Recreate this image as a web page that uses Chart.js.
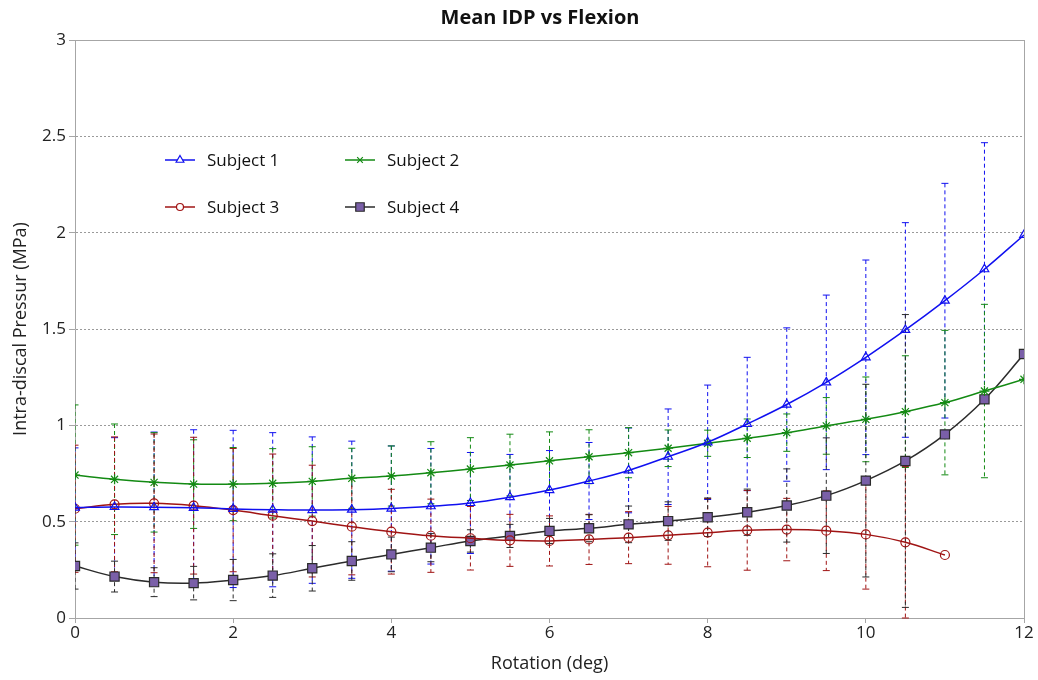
<!DOCTYPE html>
<html>
<head>
<meta charset="utf-8">
<title>Mean IDP vs Flexion</title>
<script src="https://cdn.jsdelivr.net/npm/chart.js@4.4.0/dist/chart.umd.min.js"></script>
<style>
  html, body { margin: 0; padding: 0; background: #fff; }
  #wrap { width: 1038px; height: 680px; }
</style>
</head>
<body>
<div id="wrap"><canvas id="idpChart" width="1038" height="680"></canvas></div>
<script>
// Góc xoay (deg)
const rotation = [0, 0.5, 1, 1.5, 2, 2.5, 3, 3.5, 4, 4.5, 5, 5.5, 6, 6.5, 7, 7.5, 8, 8.5, 9, 9.5, 10, 10.5, 11, 11.5, 12];

// Áp suất trung bình (MPa) và độ lệch chuẩn cho từng subject
const subject1 = [0.573, 0.576, 0.575, 0.572, 0.566, 0.562, 0.56, 0.562, 0.568, 0.58, 0.597, 0.627, 0.664, 0.711, 0.766, 0.837, 0.912, 1.007, 1.108, 1.223, 1.353, 1.495, 1.647, 1.81, 1.988];
const subject1Err = [0.31, 0.36, 0.39, 0.405, 0.408, 0.4, 0.38, 0.356, 0.325, 0.3, 0.262, 0.222, 0.205, 0.2, 0.22, 0.248, 0.297, 0.346, 0.398, 0.453, 0.505, 0.557, 0.609, 0.657, null];

const subject2 = [0.742, 0.72, 0.704, 0.695, 0.695, 0.699, 0.709, 0.725, 0.737, 0.754, 0.773, 0.794, 0.816, 0.837, 0.858, 0.881, 0.907, 0.933, 0.962, 0.997, 1.031, 1.071, 1.118, 1.178, 1.239];
const subject2Err = [0.364, 0.287, 0.258, 0.23, 0.19, 0.18, 0.18, 0.156, 0.156, 0.161, 0.163, 0.16, 0.15, 0.14, 0.13, 0.095, 0.068, 0.1, 0.097, 0.147, 0.22, 0.29, 0.375, 0.45, null];

const subject3 = [0.567, 0.59, 0.595, 0.583, 0.56, 0.531, 0.503, 0.474, 0.448, 0.427, 0.414, 0.403, 0.4, 0.408, 0.417, 0.429, 0.443, 0.455, 0.459, 0.453, 0.434, 0.393, 0.327, null, null];
const subject3Err = [0.33, 0.35, 0.36, 0.355, 0.32, 0.32, 0.29, 0.25, 0.22, 0.19, 0.165, 0.135, 0.13, 0.13, 0.135, 0.15, 0.177, 0.207, 0.162, 0.207, 0.284, 0.393, null, null, null];

const subject4 = [0.27, 0.215, 0.186, 0.181, 0.197, 0.22, 0.258, 0.296, 0.33, 0.365, 0.4, 0.426, 0.452, 0.466, 0.486, 0.503, 0.523, 0.549, 0.584, 0.635, 0.713, 0.815, 0.953, 1.135, 1.37];
const subject4Err = [0.12, 0.08, 0.075, 0.087, 0.107, 0.113, 0.118, 0.1, 0.09, 0.073, 0.058, 0.06, 0.065, 0.07, 0.095, 0.1, 0.1, 0.12, 0.19, 0.3, 0.5, 0.76, null, null, null];

const seriesNames = ['Subject 1', 'Subject 2', 'Subject 3', 'Subject 4'];
const xTicks = [0, 2, 4, 6, 8, 10, 12];
const yTicks = [0, 0.5, 1, 1.5, 2, 2.5, 3];
const chartTitle = 'Mean IDP vs Flexion';

const FONT = '"Open Sans", Lato, sans-serif';

// ghép x với y
function toPoints(values) {
    return rotation.map((r, i) => ({ x: r, y: values[i] }));
}

// Vẽ thanh sai số (nét đứt) phía sau đường
const errorBarPlugin = {
    id: 'errorBars',
    beforeDatasetsDraw(chart) {
        const { ctx, chartArea, scales: { x, y } } = chart;
        ctx.save();
        ctx.beginPath();
        ctx.rect(chartArea.left, chartArea.top - 1, chartArea.right - chartArea.left, chartArea.bottom - chartArea.top + 2);
        ctx.clip();
        chart.data.datasets.forEach(ds => {
            if (!ds.errors) return;
            ctx.strokeStyle = ds.borderColor;
            ctx.lineWidth = 1;
            ds.data.forEach((pt, j) => {
                const e = ds.errors[j];
                if (pt.y == null || e == null) return;
                const px = x.getPixelForValue(pt.x);
                const top = y.getPixelForValue(pt.y + e);
                const bot = y.getPixelForValue(Math.max(pt.y - e, 0));
                ctx.setLineDash([4, 3]);
                ctx.beginPath();
                ctx.moveTo(px, top);
                ctx.lineTo(px, bot);
                ctx.stroke();
                ctx.setLineDash([]);
                ctx.beginPath();
                ctx.moveTo(px - 3.5, top);
                ctx.lineTo(px + 3.5, top);
                ctx.moveTo(px - 3.5, bot);
                ctx.lineTo(px + 3.5, bot);
                ctx.stroke();
            });
        });
        ctx.restore();
    }
};

// Tiêu đề canh giữa, chú thích 2 cột bên trong vùng vẽ
const legendPlugin = {
    id: 'insideLegend',
    afterDraw(chart) {
        const { ctx } = chart;
        ctx.save();
        ctx.fillStyle = '#111';
        ctx.font = 'bold 20px ' + FONT;
        ctx.textAlign = 'center';
        ctx.textBaseline = 'middle';
        ctx.fillText(chartTitle, 540, 18);
        ctx.restore();

        const slots = [[165, 160], [345, 160], [165, 207], [345, 207]];
        chart.data.datasets.forEach((ds, i) => {
            const [lx, ly] = slots[i];
            ctx.save();
            ctx.strokeStyle = ds.borderColor;
            ctx.lineWidth = 1.5;
            ctx.beginPath();
            ctx.moveTo(lx, ly);
            ctx.lineTo(lx + 30, ly);
            ctx.stroke();
            ctx.fillStyle = ds.legendFill;
            ctx.strokeStyle = ds.pointBorderColor;
            ctx.lineWidth = 1.2;
            Chart.helpers.drawPoint(ctx, {
                pointStyle: ds.legendStyle || ds.pointStyle,
                radius: ds.legendRadius,
                borderWidth: 1.2,
                rotation: 0
            }, lx + 15, ly);
            ctx.fillStyle = '#111';
            ctx.font = '17px ' + FONT;
            ctx.textBaseline = 'middle';
            ctx.textAlign = 'left';
            ctx.fillText(ds.label, lx + 42, ly + 1);
            ctx.restore();
        });
    }
};

const ctx = document.getElementById('idpChart').getContext('2d');

new Chart(ctx, {
    type: 'line',
    data: {
        datasets: [
            {
                label: seriesNames[0],
                data: toPoints(subject1),
                errors: subject1Err,
                borderColor: '#1010f0',
                pointBorderColor: '#1010f0',
                pointBackgroundColor: 'rgba(255,255,255,0)',
                legendFill: '#ffffff',
                pointStyle: 'triangle',
                pointRadius: 5,
                legendRadius: 4.5
            },
            {
                label: seriesNames[1],
                data: toPoints(subject2),
                errors: subject2Err,
                borderColor: '#138a13',
                pointBorderColor: '#138a13',
                pointBackgroundColor: 'rgba(255,255,255,0)',
                legendFill: '#ffffff',
                pointStyle: 'star',
                legendStyle: 'crossRot',
                pointRadius: 5,
                legendRadius: 4
            },
            {
                label: seriesNames[2],
                data: toPoints(subject3),
                errors: subject3Err,
                borderColor: '#a01414',
                pointBorderColor: '#a01414',
                pointBackgroundColor: 'rgba(255,255,255,0)',
                legendFill: '#ffffff',
                pointStyle: 'circle',
                pointRadius: 4.5,
                legendRadius: 3.5
            },
            {
                label: seriesNames[3],
                data: toPoints(subject4),
                errors: subject4Err,
                borderColor: '#2b2b2b',
                pointBorderColor: '#2b2b2b',
                pointBackgroundColor: '#7a5fa8',
                legendFill: '#7a5fa8',
                pointStyle: 'rect',
                pointRadius: 6.5,
                legendRadius: 6
            }
        ]
    },
    options: {
        responsive: false,
        animation: false,
        spanGaps: false,
        layout: { padding: { left: 0, right: 14, top: 40, bottom: 0 } },
        elements: {
            line: { borderWidth: 1.5, tension: 0.4, fill: false },
            point: { borderWidth: 1.2, hoverRadius: 6 }
        },
        plugins: {
            legend: { display: false },
            tooltip: { enabled: false },
            title: { display: false }
        },
        scales: {
            x: {
                type: 'linear',
                min: 0,
                max: 12,
                afterFit: scale => { scale.height = 62; },
                afterBuildTicks: scale => { scale.ticks = xTicks.map(v => ({ value: v })); },
                ticks: {
                    color: '#222',
                    font: { family: FONT, size: 17 },
                    padding: 0,
                    callback: v => String(v)
                },
                grid: {
                    drawOnChartArea: true,
                    color: c => (c.tick && c.tick.value === 12 ? '#a6a6a6' : 'rgba(0,0,0,0)'),
                    tickColor: '#a6a6a6',
                    tickLength: 5
                },
                border: { color: '#a6a6a6', width: 1 },
                title: {
                    display: true,
                    text: 'Rotation (deg)',
                    color: '#222',
                    font: { family: FONT, size: 18 },
                    padding: { top: 0, bottom: 5 }
                }
            },
            y: {
                min: 0,
                max: 3,
                afterFit: scale => { scale.width = 75; },
                afterBuildTicks: scale => { scale.ticks = yTicks.map(v => ({ value: v })); },
                ticks: {
                    color: '#222',
                    font: { family: FONT, size: 17 },
                    padding: 3,
                    callback: v => String(v)
                },
                grid: {
                    color: c => {
                        if (!c.tick) return '#a6a6a6';
                        if (c.tick.value === 0) return 'rgba(0,0,0,0)';
                        return c.tick.value === 3 ? '#a6a6a6' : '#9a9a9a';
                    },
                    tickColor: '#a6a6a6',
                    tickLength: 6
                },
                border: {
                    color: '#a6a6a6',
                    width: 1,
                    dash: c => (c.tick && c.tick.value !== 3 ? [2, 2] : [])
                },
                title: {
                    display: true,
                    text: 'Intra-discal Pressur (MPa)',
                    color: '#222',
                    font: { family: FONT, size: 18 },
                    padding: { top: 10, bottom: 0 }
                }
            }
        }
    },
    plugins: [errorBarPlugin, legendPlugin]
});
</script>
</body>
</html>
